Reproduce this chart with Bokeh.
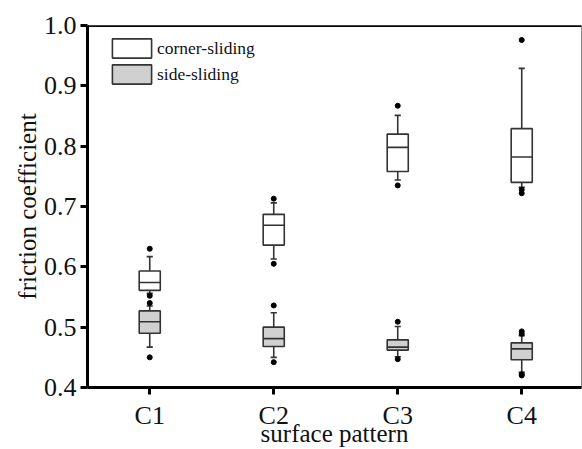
from bokeh.plotting import figure
from bokeh.models import FixedTicker, Span, Legend, LegendItem, NumeralTickFormatter
from bokeh.embed import file_html
from bokeh.resources import INLINE

categories = ["C1", "C2", "C3", "C4"]

# corner-sliding
corner_lower = [0.556, 0.613, 0.744, 0.732]
corner_q1 = [0.561, 0.636, 0.758, 0.740]
corner_median = [0.574, 0.669, 0.798, 0.782]
corner_q3 = [0.593, 0.687, 0.820, 0.829]
corner_upper = [0.617, 0.706, 0.851, 0.929]
corner_outliers = [[0.630, 0.552], [0.713, 0.605], [0.867, 0.735], [0.976, 0.728, 0.722]]

# side-sliding
side_lower = [0.467, 0.450, 0.451, 0.425]
side_q1 = [0.490, 0.468, 0.462, 0.446]
side_median = [0.509, 0.481, 0.467, 0.464]
side_q3 = [0.527, 0.500, 0.479, 0.474]
side_upper = [0.535, 0.524, 0.501, 0.486]
side_outliers = [[0.540, 0.450], [0.536, 0.442], [0.509, 0.447], [0.493, 0.489, 0.422, 0.420]]

y_ticks = [0.4, 0.5, 0.6, 0.7, 0.8, 0.9, 1.0]

FONT = "Liberation Serif"
xs = list(range(1, len(categories) + 1))
BW = 0.17
CAP = 0.05

p = figure(width=582, height=449, output_backend="svg", toolbar_location=None,
           x_range=(0.498, 4.482), y_range=(0.4, 1.0),
           min_border_left=87, min_border_right=1, min_border_top=25, min_border_bottom=62)
p.grid.visible = False
p.background_fill_color = "white"
p.border_fill_color = "white"
p.outline_line_color = "#888888"
p.outline_line_width = 1

def draw(lower, q1, med, q3, upper, outliers, fill):
    r = p.vbar(x=xs, width=BW, bottom=q1, top=q3, fill_color=fill,
               line_color="#333333", line_width=1.6)
    p.segment(x0=[x - BW / 2 for x in xs], x1=[x + BW / 2 for x in xs], y0=med, y1=med,
              line_color="#333333", line_width=1.6)
    p.segment(x0=xs, x1=xs, y0=q3, y1=upper, line_color="#333333", line_width=1.6)
    p.segment(x0=xs, x1=xs, y0=q1, y1=lower, line_color="#333333", line_width=1.6)
    p.segment(x0=[x - CAP / 2 for x in xs], x1=[x + CAP / 2 for x in xs], y0=upper, y1=upper,
              line_color="#333333", line_width=1.6)
    p.segment(x0=[x - CAP / 2 for x in xs], x1=[x + CAP / 2 for x in xs], y0=lower, y1=lower,
              line_color="#333333", line_width=1.6)
    ox, oy = [], []
    for x, vals in zip(xs, outliers):
        for v in vals:
            ox.append(x)
            oy.append(v)
    p.scatter(ox, oy, size=5, color="black")
    return r

r_corner = draw(corner_lower, corner_q1, corner_median, corner_q3, corner_upper, corner_outliers, "white")
r_side = draw(side_lower, side_q1, side_median, side_q3, side_upper, side_outliers, "#d0d0d0")

p.add_layout(Span(location=1.0, dimension="width", line_color="black", line_width=3))

legend = Legend(items=[LegendItem(label="corner-sliding", renderers=[r_corner]),
                       LegendItem(label="side-sliding", renderers=[r_side])],
                location=(20, 301), glyph_width=49, glyph_height=24, spacing=2,
                label_standoff=1, padding=0, margin=0,
                border_line_color=None, background_fill_alpha=0,
                label_text_font=FONT, label_text_font_size="17.5px", label_text_color="#111111")
p.add_layout(legend)

xa = p.xaxis[0]
xa.ticker = FixedTicker(ticks=xs)
xa.major_label_overrides = {x: c for x, c in zip(xs, categories)}
xa.axis_label = "surface pattern"
ya = p.yaxis[0]
ya.ticker = FixedTicker(ticks=y_ticks)
ya.formatter = NumeralTickFormatter(format="0.0")
ya.axis_label = "friction coefficient"

for ax in (xa, ya):
    ax.axis_line_width = 3
    ax.axis_line_color = "black"
    ax.major_tick_line_width = 3
    ax.major_tick_line_color = "black"
    ax.major_tick_out = 7
    ax.major_tick_in = 0
    ax.minor_tick_line_color = None
    ax.major_label_text_font = FONT
    ax.major_label_text_font_size = "26px"
    ax.major_label_text_color = "#111111"
    ax.axis_label_text_font = FONT
    ax.axis_label_text_font_size = "25px"
    ax.axis_label_text_font_style = "normal"
    ax.axis_label_text_color = "#111111"

xa.major_label_standoff = 6
xa.axis_label_standoff = -13
ya.major_label_standoff = 4
ya.axis_label_standoff = 0

open("out.html", "w").write(file_html(p, INLINE))
